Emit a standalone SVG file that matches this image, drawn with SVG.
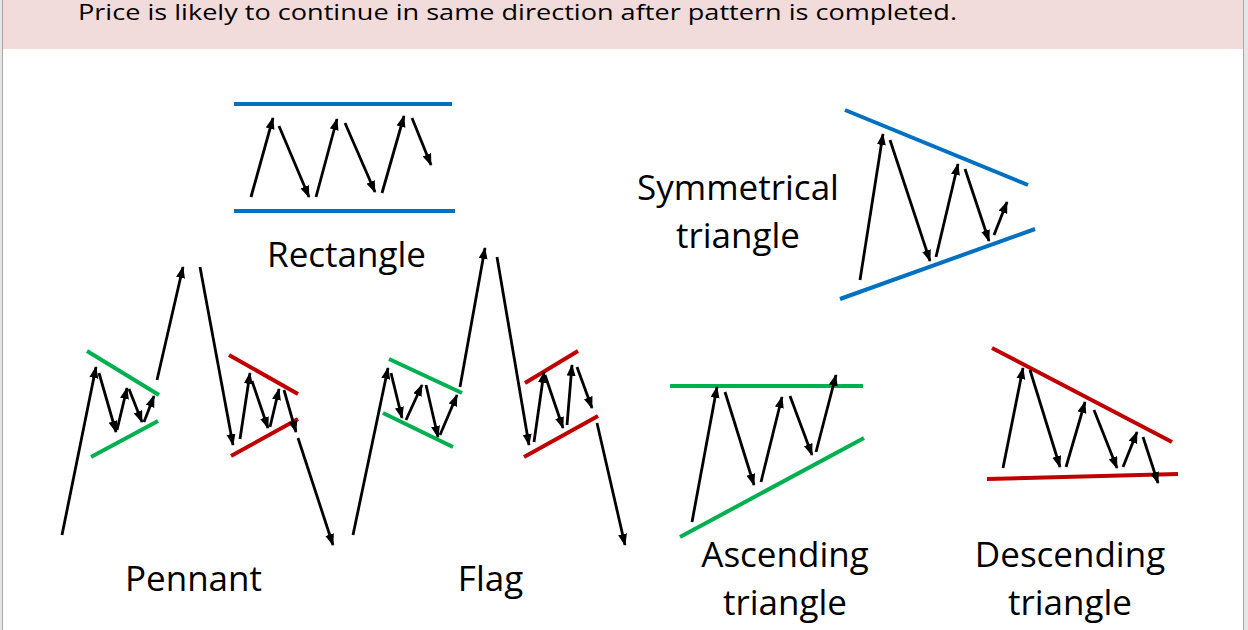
<svg xmlns="http://www.w3.org/2000/svg" width="1248" height="630" viewBox="0 0 1248 630">
<defs>
<marker id="ah" markerUnits="userSpaceOnUse" markerWidth="14" markerHeight="10" refX="11" refY="4.5" orient="auto">
<path d="M0,0 L12,4.5 L0,9 z" fill="#000"/>
</marker>
</defs>
<style>
.lbl{font-family:"Open Sans","Liberation Sans",sans-serif;font-size:35px;fill:#000;text-anchor:middle}
.hdr{font-family:"Open Sans","Liberation Sans",sans-serif;font-size:22px;fill:#000}
.a{stroke:#000;stroke-width:2.8;fill:none;marker-end:url(#ah)}
.b{stroke:#0070C0;stroke-width:4;fill:none}
.g{stroke:#00B050;stroke-width:4;fill:none}
.r{stroke:#C00000;stroke-width:4;fill:none}
</style>
<rect x="0" y="0" width="1248" height="630" fill="#e6e6e6"/>
<rect x="3" y="0" width="1240" height="630" fill="#ffffff"/>
<line x1="2.5" y1="0" x2="2.5" y2="630" stroke="#a6a6a6" stroke-width="1"/>
<line x1="1243.5" y1="0" x2="1243.5" y2="630" stroke="#a6a6a6" stroke-width="1"/>
<g id="header">
<rect x="3" y="0" width="1240" height="49" fill="#F2DCDB"/>
<text class="hdr" x="78" y="20" textLength="879" lengthAdjust="spacingAndGlyphs">Price is likely to continue in same direction after pattern is completed.</text>
</g>
<g id="rectangle">
<line class="b" x1="234" y1="104" x2="452" y2="104"/>
<line class="b" x1="234" y1="211" x2="455" y2="211"/>
<line class="a" x1="251" y1="197" x2="273" y2="118"/>
<line class="a" x1="279" y1="126" x2="309" y2="197"/>
<line class="a" x1="316" y1="197" x2="337" y2="119"/>
<line class="a" x1="345" y1="123" x2="375" y2="192"/>
<line class="a" x1="382" y1="193" x2="404" y2="116"/>
<line class="a" x1="412" y1="118" x2="431" y2="165"/>
<text class="lbl" x="346.5" y="267">Rectangle</text>
</g>
<g id="symmetrical-triangle">
<line class="b" x1="845" y1="110" x2="1028" y2="185"/>
<line class="b" x1="840" y1="299" x2="1035" y2="229"/>
<line class="a" x1="860" y1="280" x2="883" y2="134"/>
<line class="a" x1="890" y1="140" x2="930" y2="261"/>
<line class="a" x1="936" y1="257" x2="958" y2="164"/>
<line class="a" x1="965" y1="169" x2="989" y2="241"/>
<line class="a" x1="994" y1="235" x2="1007" y2="202"/>
<text class="lbl" x="738" y="200">Symmetrical</text>
<text class="lbl" x="738" y="248">triangle</text>
</g>
<g id="pennant">
<line class="g" x1="87" y1="351" x2="159" y2="395"/>
<line class="g" x1="91" y1="457" x2="158" y2="421"/>
<line class="a" x1="62" y1="535" x2="96" y2="367"/>
<line class="a" x1="99" y1="373" x2="116" y2="432"/>
<line class="a" x1="117" y1="430" x2="127" y2="388"/>
<line class="a" x1="129" y1="389" x2="142" y2="422"/>
<line class="a" x1="144" y1="422" x2="154" y2="396"/>
<line class="a" x1="157" y1="380" x2="183" y2="267"/>
<line class="a" x1="200" y1="267" x2="233" y2="445"/>
<line class="r" x1="229" y1="355" x2="298" y2="394"/>
<line class="r" x1="231" y1="456" x2="298" y2="419"/>
<line class="a" x1="240" y1="439" x2="250" y2="373"/>
<line class="a" x1="252" y1="381" x2="268" y2="428"/>
<line class="a" x1="270" y1="427" x2="279" y2="389"/>
<line class="a" x1="284" y1="390" x2="296" y2="432"/>
<line class="a" x1="298" y1="438" x2="333" y2="545"/>
<text class="lbl" x="193.5" y="591">Pennant</text>
</g>
<g id="flag">
<line class="g" x1="389" y1="359" x2="462" y2="393"/>
<line class="g" x1="383" y1="413" x2="453" y2="447"/>
<line class="a" x1="353" y1="535" x2="388" y2="368"/>
<line class="a" x1="391" y1="373" x2="402" y2="418"/>
<line class="a" x1="406" y1="420" x2="422" y2="385"/>
<line class="a" x1="426" y1="385" x2="438" y2="437"/>
<line class="a" x1="440" y1="435" x2="457" y2="395"/>
<line class="a" x1="460" y1="387" x2="485" y2="248"/>
<line class="a" x1="497" y1="257" x2="529" y2="445"/>
<line class="r" x1="525" y1="383" x2="578" y2="351"/>
<line class="r" x1="524" y1="457" x2="598" y2="416"/>
<line class="a" x1="534" y1="442" x2="544" y2="372"/>
<line class="a" x1="545" y1="375" x2="563" y2="428"/>
<line class="a" x1="567" y1="425" x2="572" y2="365"/>
<line class="a" x1="577" y1="367" x2="592" y2="408"/>
<line class="a" x1="597" y1="423" x2="625" y2="545"/>
<text class="lbl" x="490.5" y="591">Flag</text>
</g>
<g id="ascending-triangle">
<line class="g" x1="670" y1="386" x2="863" y2="386"/>
<line class="g" x1="680" y1="537" x2="864" y2="438"/>
<line class="a" x1="692" y1="522" x2="717" y2="387"/>
<line class="a" x1="725" y1="392" x2="754" y2="485"/>
<line class="a" x1="761" y1="482" x2="782" y2="397"/>
<line class="a" x1="790" y1="396" x2="812" y2="455"/>
<line class="a" x1="816" y1="452" x2="836" y2="375"/>
<text class="lbl" x="785" y="567">Ascending</text>
<text class="lbl" x="785" y="615">triangle</text>
</g>
<g id="descending-triangle">
<line class="r" x1="992" y1="348" x2="1172" y2="442"/>
<line class="r" x1="987" y1="479" x2="1178" y2="474"/>
<line class="a" x1="1003" y1="468" x2="1023" y2="368"/>
<line class="a" x1="1030" y1="370" x2="1060" y2="467"/>
<line class="a" x1="1066" y1="467" x2="1085" y2="402"/>
<line class="a" x1="1094" y1="410" x2="1117" y2="468"/>
<line class="a" x1="1123" y1="467" x2="1137" y2="432"/>
<line class="a" x1="1143" y1="437" x2="1158" y2="483"/>
<text class="lbl" x="1070" y="567">Descending</text>
<text class="lbl" x="1070" y="615">triangle</text>
</g>
</svg>
